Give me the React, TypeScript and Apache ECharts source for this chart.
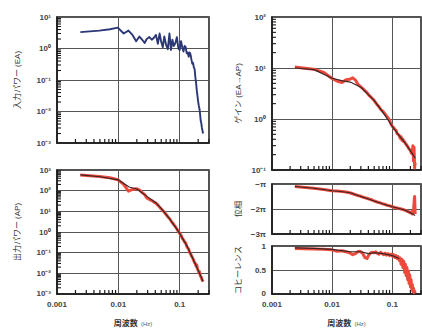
import React, { useEffect, useRef } from 'react';
import * as echarts from 'echarts';

// Spectral estimate frequencies (Hz)
const freq = [0.0024, 0.0049, 0.0073, 0.0098, 0.0122, 0.0146, 0.017, 0.0195, 0.022, 0.0244, 0.0268, 0.029, 0.032, 0.035, 0.038, 0.041, 0.044, 0.047, 0.05, 0.053, 0.056, 0.06, 0.064, 0.068, 0.072, 0.076, 0.08, 0.085, 0.09, 0.095, 0.1, 0.105, 0.11, 0.115, 0.12, 0.125, 0.13, 0.135, 0.14, 0.145, 0.15, 0.155, 0.16, 0.165, 0.17, 0.175, 0.18, 0.185, 0.19, 0.195, 0.2, 0.205, 0.21, 0.215, 0.22, 0.225, 0.23, 0.235, 0.24];

const inputPower = [3.3, 3.7, 4.1, 4.6, 3.0, 3.7, 2.7, 1.7, 2.4, 1.9, 1.5, 2.0, 2.3, 1.9, 2.2, 2.7, 1.4, 3.0, 1.6, 1.1, 2.4, 1.3, 0.95, 3.0, 0.9, 1.9, 1.2, 1.5, 2.3, 1.0, 0.9, 1.7, 1.1, 0.8, 1.2, 1.1, 0.7, 0.75, 0.55, 0.75, 0.65, 0.45, 0.33, 0.35, 0.25, 0.22, 0.12, 0.08, 0.045, 0.03, 0.02, 0.015, 0.012, 0.008, 0.005, 0.0042, 0.003, 0.0025, 0.002];

const outputPower = [580, 480, 420, 340, 200, 95, 115, 125, 110, 80, 65, 45, 38, 33, 28, 25, 20, 16, 13, 11, 9, 7, 5.5, 4.5, 3.5, 2.8, 2.3, 1.8, 1.4, 1.05, 0.85, 0.7, 0.5, 0.42, 0.33, 0.3, 0.2, 0.17, 0.15, 0.1, 0.09, 0.07, 0.06, 0.05, 0.04, 0.032, 0.03, 0.022, 0.025, 0.016, 0.014, 0.011, 0.012, 0.008, 0.007, 0.0065, 0.005, 0.0045, 0.004];

const gainEst = [10.5, 9.5, 8.2, 6.3, 5.5, 5.2, 5.9, 6.0, 6.4, 5.8, 4.8, 4.4, 4.0, 3.6, 3.3, 2.9, 2.7, 2.5, 2.3, 2.1, 1.9, 1.75, 1.55, 1.45, 1.35, 1.25, 1.15, 1.05, 0.95, 0.8, 0.72, 0.68, 0.62, 0.6, 0.52, 0.5, 0.48, 0.42, 0.45, 0.38, 0.4, 0.36, 0.36, 0.33, 0.32, 0.3, 0.29, 0.27, 0.26, 0.25, 0.24, 0.22, 0.21, 0.22, 0.3, 0.15, 0.28, 0.11, 0.14];

const phaseEst = [-1.1, -1.17, -1.22, -1.27, -1.28, -1.3, -1.32, -1.35, -1.39, -1.43, -1.46, -1.48, -1.52, -1.55, -1.57, -1.6, -1.62, -1.65, -1.68, -1.7, -1.72, -1.74, -1.76, -1.79, -1.8, -1.82, -1.84, -1.86, -1.87, -1.89, -1.91, -1.92, -1.94, -1.95, -1.96, -1.97, -1.98, -1.99, -2.0, -2.01, -2.02, -2.03, -2.04, -2.06, -2.07, -2.08, -2.1, -2.11, -2.12, -2.14, -2.15, -2.16, -2.1, -2.2, -2.05, -2.1, -1.75, -1.5, -2.2];

const coherenceEst = [0.95, 0.94, 0.93, 0.92, 0.89, 0.9, 0.88, 0.86, 0.82, 0.84, 0.88, 0.89, 0.85, 0.76, 0.74, 0.82, 0.86, 0.87, 0.86, 0.88, 0.85, 0.83, 0.87, 0.84, 0.82, 0.85, 0.81, 0.84, 0.8, 0.83, 0.79, 0.82, 0.76, 0.8, 0.74, 0.78, 0.7, 0.75, 0.62, 0.72, 0.55, 0.68, 0.45, 0.62, 0.38, 0.55, 0.3, 0.48, 0.22, 0.4, 0.15, 0.3, 0.1, 0.2, 0.05, 0.12, 0.03, 0.06, 0.02];

// Model (fit) curves
const fitFreq = [0.0024, 0.005, 0.01, 0.015, 0.02, 0.03, 0.04, 0.05, 0.07, 0.1, 0.13, 0.16, 0.2, 0.24];
const outputFit = [580, 470, 330, 150, 120, 50, 27, 14, 4, 0.85, 0.22, 0.06, 0.014, 0.004];
const gainFit = [10, 9.3, 6.3, 5.6, 5.3, 4.2, 3.0, 2.3, 1.35, 0.72, 0.47, 0.35, 0.24, 0.17];
const phaseFit = [-1.1, -1.17, -1.27, -1.31, -1.35, -1.5, -1.6, -1.68, -1.8, -1.91, -1.98, -2.04, -2.15, -2.26];
const coherenceFit = [0.96, 0.95, 0.93, 0.9, 0.88, 0.88, 0.84, 0.86, 0.84, 0.8, 0.74];

const xTickLabels = ['0.001', '0.01', '0.1'];
const phaseTickLabels = ['−3π', '−2π', '−π'];
const minorX = [0.002, 0.003, 0.004, 0.005, 0.006, 0.007, 0.008, 0.009, 0.02, 0.03, 0.04, 0.05, 0.06, 0.07, 0.08, 0.09, 0.2, 0.3];

const SUP: Record<string, string> = { '-': '⁻', '0': '⁰', '1': '¹', '2': '²', '3': '³', '4': '⁴' };
const supStr = (n: number) => String(n).split('').map((c) => SUP[c] || c).join('');

function minorDecades(lo: number, hi: number) {
  const out: number[] = [];
  for (let e = lo; e < hi; e++) {
    for (let m = 2; m <= 9; m++) out.push(Number((m * Math.pow(10, e)).toPrecision(3)));
  }
  return out;
}

const FONT = "'Liberation Sans', 'Noto Sans CJK JP', sans-serif";
const RED = '#ec4a3c';
const DARK = '#3a2626';
const NAVY = '#2c3777';

export default function App() {
  const ref = useRef<HTMLDivElement>(null);
  useEffect(() => {
    if (!ref.current) return;
    const chart = echarts.init(ref.current, undefined, { renderer: 'svg' });

    const grids = [
      { left: 57, top: 17, width: 152, height: 126 },
      { left: 57, top: 170, width: 152, height: 127 },
      { left: 272, top: 17, width: 149, height: 153 },
      { left: 272, top: 184, width: 149, height: 50 },
      { left: 272, top: 246, width: 149, height: 51 },
    ].map((g) => ({ ...g, show: true, borderColor: '#1a1a1a', borderWidth: 1.5, containLabel: false }));

    const xLabelFmt = (v: number) => {
      const e = Math.log10(v);
      if (Math.abs(e - Math.round(e)) > 1e-6) return '';
      const idx = Math.round(e) + 3;
      return xTickLabels[idx] ?? '';
    };

    const xAxes = grids.map((_, i) => ({
      type: 'log',
      logBase: 10,
      gridIndex: i,
      min: 0.001,
      max: 0.3,
      axisLine: { show: true, lineStyle: { color: '#1a1a1a', width: 1.5 } },
      axisTick: { show: false },
      splitLine: { show: true, lineStyle: { color: '#555', width: 1 } },
      axisLabel: {
        show: i === 1 || i === 4,
        formatter: xLabelFmt,
        fontSize: 8,
        color: '#444',
        fontFamily: FONT,
        fontWeight: 'bold',
        margin: 7,
        showMinLabel: true,
        showMaxLabel: false,
      },
      name: i === 1 || i === 4 ? '{b|周波数} {s|(Hz)}' : '',
      nameLocation: 'middle',
      nameGap: 24,
      nameTextStyle: {
        rich: {
          b: { fontSize: 8, fontWeight: 'bold', color: '#333', fontFamily: FONT },
          s: { fontSize: 6, color: '#555', fontFamily: FONT },
        },
      },
    }));

    const logLabel = (v: number) => {
      const e = Math.log10(v);
      if (Math.abs(e - Math.round(e)) > 1e-6) return '';
      return '10' + supStr(Math.round(e));
    };

    const baseY = (i: number, name: string, gap: number) => ({
      gridIndex: i,
      name,
      nameLocation: 'middle',
      nameGap: gap,
      nameTextStyle: { fontSize: 8, color: '#333', fontFamily: FONT },
      axisLine: { show: true, lineStyle: { color: '#1a1a1a', width: 1.5 } },
      axisTick: { show: false },
      splitLine: { show: true, lineStyle: { color: '#555', width: 1 } },
      axisLabel: {
        fontSize: 8,
        color: '#444',
        fontFamily: FONT,
        fontWeight: 'bold',
        margin: 6,
        showMinLabel: true,
        showMaxLabel: true,
      },
    });

    const yAxes: any[] = [
      { ...baseY(0, '入力パワー (EA)', 36), type: 'log', logBase: 10, min: 0.001, max: 10 },
      { ...baseY(1, '出力パワー (AP)', 36), type: 'log', logBase: 10, min: 0.001, max: 1000 },
      { ...baseY(2, 'ゲイン (EA→AP)', 30), type: 'log', logBase: 10, min: 0.1, max: 100 },
      { ...baseY(3, '位相', 30), type: 'value', min: -3, max: -1, interval: 1 },
      { ...baseY(4, 'コヒーレンス', 30), type: 'value', min: 0, max: 1, interval: 0.5 },
    ];
    yAxes[0].axisLabel = { ...yAxes[0].axisLabel, formatter: logLabel };
    yAxes[1].axisLabel = { ...yAxes[1].axisLabel, formatter: logLabel };
    yAxes[2].axisLabel = { ...yAxes[2].axisLabel, formatter: logLabel };
    yAxes[3].axisLabel = {
      ...yAxes[3].axisLabel,
      formatter: (v: number) => phaseTickLabels[Math.round(v) + 3] ?? '',
    };
    yAxes[4].axisLabel = {
      ...yAxes[4].axisLabel,
      formatter: (v: number) => (v === 0.5 ? '0.5' : String(v)),
    };

    const yMins = [0.001, 0.001, 0.1, -3, 0];

    const minorXSeries = (i: number) => ({
      type: 'custom',
      xAxisIndex: i,
      yAxisIndex: i,
      silent: true,
      clip: false,
      z: 5,
      data: minorX.map((v) => [v, yMins[i]]),
      renderItem: (_p: any, api: any) => {
        const c = api.coord([api.value(0), api.value(1)]);
        return {
          type: 'line',
          shape: { x1: c[0], y1: c[1], x2: c[0], y2: c[1] - 4 },
          style: { stroke: '#1a1a1a', lineWidth: 1.2 },
        };
      },
    });

    const minorYSeries = (i: number, lo: number, hi: number) => ({
      type: 'custom',
      xAxisIndex: i,
      yAxisIndex: i,
      silent: true,
      clip: false,
      z: 5,
      data: minorDecades(lo, hi).map((v) => [0.001, v]),
      renderItem: (_p: any, api: any) => {
        const c = api.coord([api.value(0), api.value(1)]);
        return {
          type: 'line',
          shape: { x1: c[0], y1: c[1], x2: c[0] + 4, y2: c[1] },
          style: { stroke: '#1a1a1a', lineWidth: 1.1 },
        };
      },
    });

    const line = (i: number, xs: number[], ys: number[], color: string, width: number, z = 2) => ({
      type: 'line',
      xAxisIndex: i,
      yAxisIndex: i,
      data: ys.map((y, k) => [xs[k], y]),
      showSymbol: false,
      symbol: 'none',
      lineStyle: { color, width, join: 'round' },
      z,
    });

    chart.setOption({
      animation: false,
      backgroundColor: '#ffffff',
      textStyle: { fontFamily: FONT },
      grid: grids,
      xAxis: xAxes,
      yAxis: yAxes,
      series: [
        line(0, freq, inputPower, NAVY, 1.9),
        line(1, freq, outputPower, RED, 3),
        line(1, fitFreq, outputFit, DARK, 1.2, 3),
        line(2, freq, gainEst, RED, 3),
        line(2, fitFreq, gainFit, DARK, 1.2, 3),
        line(3, freq, phaseEst, RED, 3),
        line(3, fitFreq, phaseFit, DARK, 1.2, 3),
        line(4, freq, coherenceEst, RED, 3),
        line(4, fitFreq.slice(0, coherenceFit.length), coherenceFit, DARK, 1.2, 3),
        ...[0, 1, 2, 3, 4].map(minorXSeries),
        minorYSeries(0, -3, 1),
        minorYSeries(1, -3, 3),
        minorYSeries(2, -1, 2),
      ],
    });

    return () => chart.dispose();
  }, []);

  return (
    <div
      ref={ref}
      style={{ position: 'absolute', left: 0, top: 0, width: 422, height: 331 }}
    />
  );
}
